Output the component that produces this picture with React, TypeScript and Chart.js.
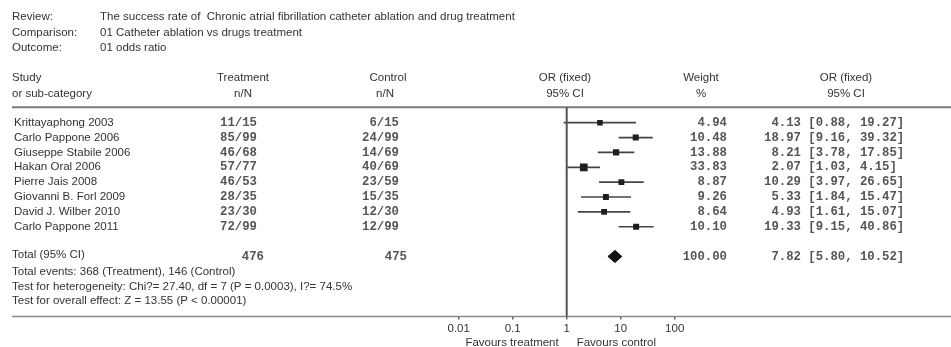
import React, { useEffect, useRef } from "react";
import { Chart, registerables } from "chart.js";

Chart.register(...registerables);

// ---------- data ----------
const reviewTitle = "The success rate of  Chronic atrial fibrillation catheter ablation and drug treatment";
const comparisonTitle = "01 Catheter ablation vs drugs treatment";
const outcomeTitle = "01 odds ratio";

const studies = [
  "Krittayaphong 2003",
  "Carlo Pappone 2006",
  "Giuseppe Stabile 2006",
  "Hakan Oral 2006",
  "Pierre Jais 2008",
  "Giovanni B. Forl 2009",
  "David J. Wilber 2010",
  "Carlo Pappone 2011",
];
const treatmentNN = ["11/15", "85/99", "46/68", "57/77", "46/53", "28/35", "23/30", "72/99"];
const controlNN = ["6/15", "24/99", "14/69", "40/69", "23/59", "15/35", "12/30", "12/99"];
const weights = [4.94, 10.48, 13.88, 33.83, 8.87, 9.26, 8.64, 10.1];
const oddsRatios = [4.13, 18.97, 8.21, 2.07, 10.29, 5.33, 4.93, 19.33];
const ciLower = [0.88, 9.16, 3.78, 1.03, 3.97, 1.84, 1.61, 9.15];
const ciUpper = [19.27, 39.32, 17.85, 4.15, 26.65, 15.47, 15.07, 40.86];

const totalTreatment = 476;
const totalControl = 475;
const totalWeight = 100.0;
const totalOR = 7.82;
const totalLower = 5.8;
const totalUpper = 10.52;

const footerLines = [
  "Total events: 368 (Treatment), 146 (Control)",
  "Test for heterogeneity: Chi?= 27.40, df = 7 (P = 0.0003), I?= 74.5%",
  "Test for overall effect: Z = 13.55 (P < 0.00001)",
];

const axisTicks = [0.01, 0.1, 1, 10, 100];
const axisTickLabels = ["0.01", "0.1", "1", "10", "100"];

// ---------- styling ----------
const SANS = "'Liberation Sans', Arial, sans-serif";
const MONO = "'Liberation Mono', 'Courier New', monospace";
const SANS_SIZE = 11.5;
const TEXT = "#333";
const MONO_COLOR = "#555";
const MONO_FONT = `bold 12.3px ${MONO}`;
const TOTAL_ROW = studies.length + 1;

const fmtCI = (or: number, lo: number, hi: number) =>
  `${or.toFixed(2).padStart(5, " ")} [${lo.toFixed(2)}, ${hi.toFixed(2)}]`;

const tablePlugin = {
  id: "forestTable",
  afterDraw(chart: any) {
    const ctx = chart.ctx as CanvasRenderingContext2D;
    const y = chart.scales.y;
    const x = chart.scales.x;
    const area = chart.chartArea;
    const sans = `${SANS_SIZE}px ${SANS}`;
    ctx.save();

    // horizontal rules
    ctx.strokeStyle = "#7a7a7a";
    ctx.lineWidth = 2;
    ctx.beginPath();
    ctx.moveTo(12, area.top);
    ctx.lineTo(951, area.top);
    ctx.stroke();
    ctx.strokeStyle = "#8a8a8a";
    ctx.lineWidth = 1.5;
    ctx.beginPath();
    ctx.moveTo(12, area.bottom);
    ctx.lineTo(951, area.bottom);
    ctx.stroke();

    // vertical line of no effect
    const x1 = x.getPixelForValue(1);
    ctx.strokeStyle = "#555";
    ctx.lineWidth = 2;
    ctx.beginPath();
    ctx.moveTo(x1, area.top);
    ctx.lineTo(x1, area.bottom);
    ctx.stroke();

    // header block
    ctx.fillStyle = TEXT;
    ctx.font = sans;
    ctx.textBaseline = "middle";
    ctx.textAlign = "left";
    ctx.fillText("Review:", 12, 17);
    ctx.fillText(reviewTitle, 100, 17);
    ctx.fillText("Comparison:", 12, 33);
    ctx.fillText(comparisonTitle, 100, 33);
    ctx.fillText("Outcome:", 12, 48);
    ctx.fillText(outcomeTitle, 100, 48);

    ctx.fillText("Study", 12, 78);
    ctx.fillText("or sub-category", 12, 94);
    ctx.textAlign = "center";
    ctx.fillText("Treatment", 243, 78);
    ctx.fillText("n/N", 243, 94);
    ctx.fillText("Control", 388, 78);
    ctx.fillText("n/N", 385, 94);
    ctx.fillText("OR (fixed)", 565, 78);
    ctx.fillText("95% CI", 565, 94);
    ctx.fillText("Weight", 701, 78);
    ctx.fillText("%", 701, 94);
    ctx.fillText("OR (fixed)", 846, 78);
    ctx.fillText("95% CI", 846, 94);

    // study rows
    studies.forEach((name, i) => {
      const py = y.getPixelForValue(i);
      ctx.font = sans;
      ctx.fillStyle = TEXT;
      ctx.textAlign = "left";
      ctx.fillText(name, 14, py);
      ctx.font = MONO_FONT;
      ctx.fillStyle = MONO_COLOR;
      ctx.textAlign = "right";
      ctx.fillText(treatmentNN[i], 257, py);
      ctx.fillText(controlNN[i], 399, py);
      ctx.fillText(weights[i].toFixed(2), 727, py);
      ctx.textAlign = "left";
      ctx.fillText(fmtCI(oddsRatios[i], ciLower[i], ciUpper[i]), 764, py);
    });

    // total row
    const ty = y.getPixelForValue(TOTAL_ROW);
    ctx.font = sans;
    ctx.fillStyle = TEXT;
    ctx.textAlign = "left";
    ctx.fillText("Total (95% CI)", 12, ty - 1.5);
    ctx.font = MONO_FONT;
    ctx.fillStyle = MONO_COLOR;
    ctx.textAlign = "right";
    ctx.fillText(String(totalTreatment), 264, ty);
    ctx.fillText(String(totalControl), 407, ty);
    ctx.fillText(totalWeight.toFixed(2), 727, ty);
    ctx.textAlign = "left";
    ctx.fillText(fmtCI(totalOR, totalLower, totalUpper), 764, ty);

    // footer notes
    ctx.font = sans;
    ctx.fillStyle = TEXT;
    footerLines.forEach((t, k) => ctx.fillText(t, 12, 272.3 + k * 14.4));

    // favours labels
    ctx.textAlign = "right";
    ctx.fillText("Favours treatment", x1 - 8, 342.5);
    ctx.textAlign = "left";
    ctx.fillText("Favours control", x1 + 10, 342.5);

    ctx.restore();
  },
};

export default function App() {
  const ref = useRef<HTMLCanvasElement | null>(null);

  useEffect(() => {
    if (!ref.current) return;

    const whiskers: any[] = [];
    studies.forEach((_, i) => {
      whiskers.push({ x: ciLower[i], y: i });
      whiskers.push({ x: ciUpper[i], y: i });
      whiskers.push({ x: null, y: null });
    });
    const squares = studies.map((_, i) => ({ x: oddsRatios[i], y: i }));
    const squareRadii = weights.map((w) => (5.2 + 0.075 * w) / 1.4142);
    const dh = 0.41;
    const diamond = [
      { x: totalLower, y: TOTAL_ROW },
      { x: totalOR, y: TOTAL_ROW - dh },
      { x: totalUpper, y: TOTAL_ROW },
      { x: totalOR, y: TOTAL_ROW + dh },
      { x: totalLower, y: TOTAL_ROW },
    ];

    const chart = new Chart(ref.current, {
      type: "scatter",
      data: {
        datasets: [
          {
            data: whiskers,
            showLine: true,
            spanGaps: false,
            borderColor: "#454545",
            borderWidth: 1.7,
            pointRadius: 0,
            fill: false,
            order: 3,
          } as any,
          {
            data: squares,
            pointStyle: "rect",
            pointRadius: squareRadii,
            pointBorderWidth: 0,
            backgroundColor: "#1e1e1e",
            borderColor: "#1e1e1e",
            order: 1,
          } as any,
          {
            data: diamond,
            showLine: true,
            borderColor: "#111",
            backgroundColor: "#111",
            borderWidth: 1,
            pointRadius: 0,
            tension: 0,
            fill: "shape",
            order: 2,
          } as any,
        ],
      },
      options: {
        animation: false,
        responsive: false,
        maintainAspectRatio: false,
        events: [],
        layout: { padding: { left: 458.7, right: 276.3, top: 107.3, bottom: 0 } },
        plugins: {
          legend: { display: false },
          tooltip: { enabled: false },
        },
        scales: {
          x: {
            type: "logarithmic",
            min: 0.01,
            max: 100,
            afterBuildTicks: (s: any) => {
              s.ticks = axisTicks.map((v) => ({ value: v }));
            },
            afterFit: (s: any) => {
              s.height = 30.5;
            },
            ticks: {
              autoSkip: false,
              maxRotation: 0,
              padding: 2,
              color: TEXT,
              font: { family: SANS, size: SANS_SIZE },
              callback: (_v: any, i: number) => axisTickLabels[i],
            },
            grid: {
              display: true,
              drawOnChartArea: false,
              tickLength: 3,
              color: "#666",
              lineWidth: 1.5,
            },
            border: { display: false },
          },
          y: {
            type: "linear",
            display: false,
            reverse: true,
            min: -1.036,
            max: 13.04,
          },
        },
      } as any,
      plugins: [tablePlugin],
    });

    return () => chart.destroy();
  }, []);

  return (
    <div style={{ position: "absolute", left: 0, top: 0, width: 951, height: 347 }}>
      <canvas ref={ref} width={951} height={347} style={{ width: 951, height: 347, display: "block" }} />
    </div>
  );
}
